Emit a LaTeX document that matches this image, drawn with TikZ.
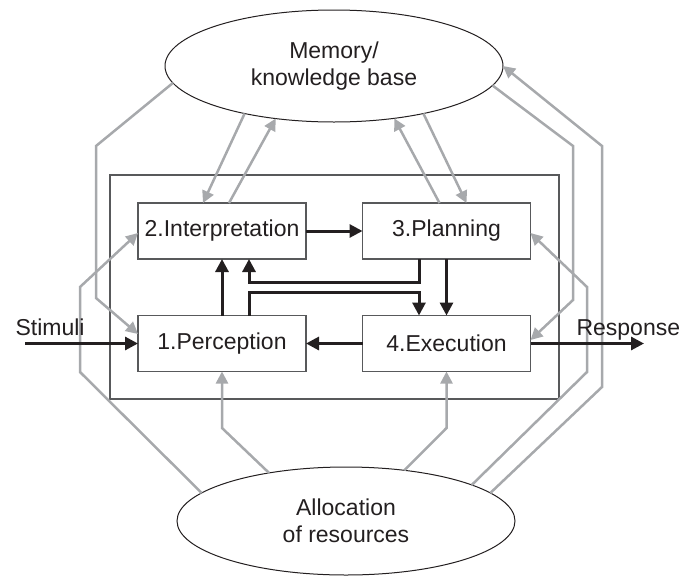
\documentclass[tikz,border=0pt]{standalone}
\usepackage{fontspec}
\setmainfont{Liberation Sans}
\usetikzlibrary{arrows.meta,shapes.geometric}
\definecolor{ink}{HTML}{231F20}
\definecolor{shade}{HTML}{A7A9AC}
\definecolor{rim}{HTML}{58595B}

\tikzset{
  box/.style={draw=rim, line width=1.3pt, minimum width=168pt, minimum height=56pt,
    inner sep=0pt, outer sep=0pt, fill=white},
  blob/.style={ellipse, draw=ink, line width=1pt, minimum width=338pt, minimum height=112pt,
    inner sep=0pt, outer sep=0pt, align=center},
  flow/.style={draw=ink, line width=3pt, -{Triangle[length=13pt,width=13pt]}},
  feed/.style={draw=shade, line width=2.5pt, -{Triangle[length=12pt,width=12pt]}},
}

\begin{document}
\begin{tikzpicture}[x=1pt,y=-1pt,font=\fontsize{23}{27}\selectfont,text=ink]
    \useasboundingbox (0,0) rectangle (680,576);

    \node[blob] (mem) at (334,66) {Memory/\\knowledge base};
    \node[blob, minimum height=108pt] (alloc) at (346,521) {Allocation\\of resources};

    \draw[rim, line width=1.3pt] (110,175) rectangle (559,399);

    \node[box] (interp) at (222,231) {2.Interpretation};
    \node[box] (plan) at (446.5,231) {3.Planning};
    \node[box] (perc) at (222,343.5) {1.Perception};
    \node[box] (exec) at (446.5,343.5) {4.Execution};

    % memory links
    \draw[feed] (mem.208) -- ([xshift=-19pt]interp.north);
    \draw[feed] ([xshift=7pt]interp.north) -- (mem.222);
    \draw[feed] ([xshift=-7pt]plan.north) -- (mem.319);
    \draw[feed] (mem.332) -- ([xshift=20pt]plan.north);
    \draw[feed] (mem.186) -- (96,146) -- (96,298) -- ([yshift=9.5pt]perc.west);
    \draw[feed] (mem.353) -- (573,146) -- (573,300) -- ([yshift=3.5pt]exec.east);

    % resource links
    \draw[feed] (alloc.11) -- (602,387) -- (602,146) -- (mem.east);
    \draw[feed] (alloc.16) -- (587,372) -- (587,287) -- ([yshift=-2pt]plan.east);
    \draw[feed] (alloc.169) -- (80,372) -- (80,287) -- ([yshift=-2pt]interp.west);
    \draw[feed] (alloc.148) -- (222,428) -- (perc.south);
    \draw[feed] (alloc.41) -- (446.5,428) -- (exec.south);

    % main cycle
    \coordinate (stim) at (25,343.5);
    \coordinate (resp) at (644,343.5);
    \node[anchor=base west] (stimtxt) at (12,335) {Stimuli};
    \node[anchor=base west] (resptxt) at (573,335) {Response};

    \draw[flow] (stim) -- (perc.west);
    \draw[flow] (exec.east) -- (resp);
    \draw[flow] (interp.east) -- (plan.west);
    \draw[flow] (plan.south) -- (exec.north);
    \draw[flow] (perc.north) -- (interp.south);
    \draw[flow] (exec.west) -- (perc.east);
    \draw[flow] ([xshift=-27.5pt]plan.south) -- ++(0,23) -| ([xshift=27pt]interp.south);
    \draw[flow] ([xshift=27pt]perc.north) -- ++(0,-23) -| ([xshift=-27.5pt]exec.north);
\end{tikzpicture}
\end{document}
